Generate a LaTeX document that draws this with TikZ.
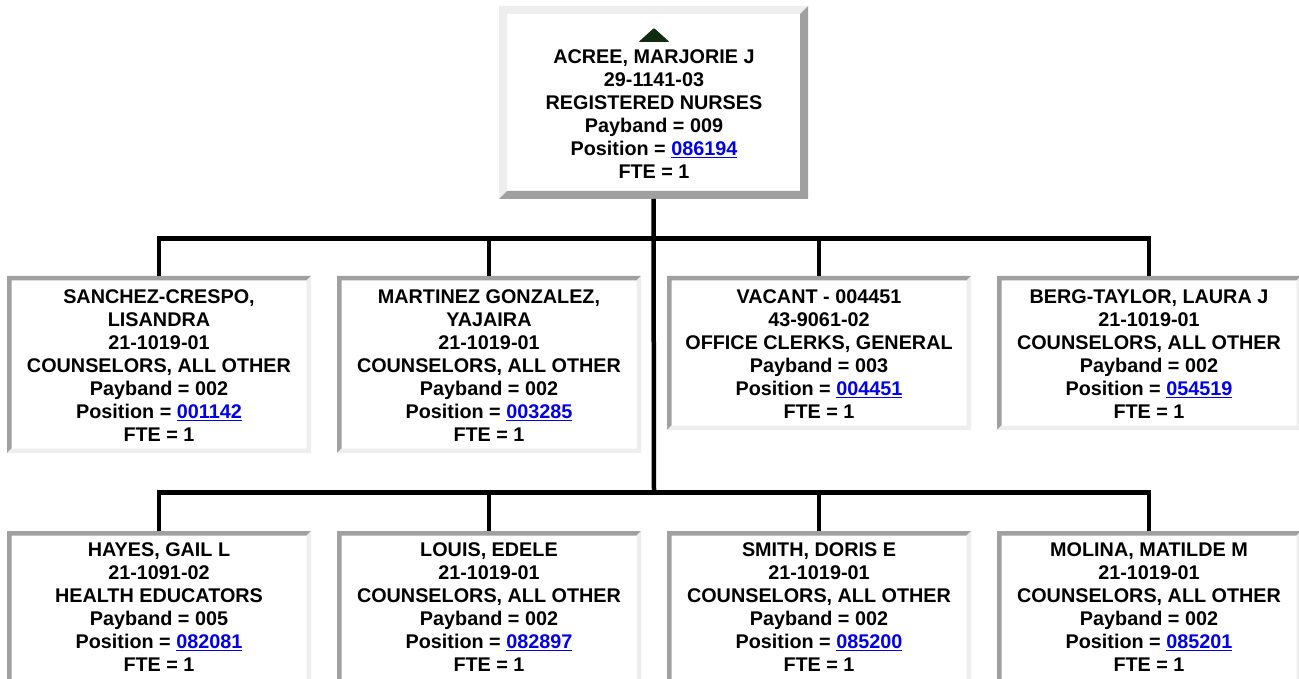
\documentclass[tikz,border=0pt]{standalone}
\usepackage{fontspec}
\setmainfont{Liberation Sans}
\definecolor{bdark}{HTML}{A0A0A0}
\definecolor{blight}{HTML}{EEEEEE}
\definecolor{linkblue}{HTML}{0000EE}
\definecolor{tri}{RGB}{16,44,16}
\newcommand\lnk[1]{\textcolor{linkblue}{\underline{#1}}}
% bevelled border: node, width, top-left colour, bottom-right colour
\newcommand\bevelbox[4]{%
  \fill[#3] (#1.south west) -- (#1.north west) -- (#1.north east)
    -- ([xshift=-#2,yshift=-#2]#1.north east) -- ([xshift=#2,yshift=-#2]#1.north west)
    -- ([xshift=#2,yshift=#2]#1.south west) -- cycle;
  \fill[#4] (#1.south west) -- (#1.south east) -- (#1.north east)
    -- ([xshift=-#2,yshift=-#2]#1.north east) -- ([xshift=-#2,yshift=#2]#1.south east)
    -- ([xshift=#2,yshift=#2]#1.south west) -- cycle;}
\tikzset{
  x=1pt, y=-1pt,
  cbox/.style={minimum width=304pt, minimum height=#1, inner sep=0pt, outer sep=0pt, fill=white},
  topbox/.style={minimum width=309pt, minimum height=193pt, inner sep=0pt, outer sep=0pt, fill=white},
  txt/.style={align=center, inner sep=0pt, font=\fontsize{19.8}{23}\selectfont\bfseries},
  conn/.style={line width=4.5pt, line join=miter, line cap=butt}
}
\begin{document}
\begin{tikzpicture}
\clip (0,0) rectangle (1299,679);
\fill[white] (0,0) rectangle (1299,679);
% boxes
\node[topbox] (top) at (653.5,102.5) {};
\node[cbox=177pt] (b1) at (159,364.5) {};
\node[cbox=177pt] (b2) at (489,364.5) {};
\node[cbox=154pt] (b3) at (819,353) {};
\node[cbox=154pt] (b4) at (1149,353) {};
\node[cbox=154pt] (c1) at (159,608) {};
\node[cbox=154pt] (c2) at (489,608) {};
\node[cbox=154pt] (c3) at (819,608) {};
\node[cbox=154pt] (c4) at (1149,608) {};
\bevelbox{top}{8pt}{blight}{bdark}
\foreach \n in {b1,b2,b3,b4,c1,c2,c3,c4}{\bevelbox{\n}{4.5pt}{bdark}{blight}}
% triangle
\fill[tri, rounded corners=1pt] (638.5,42) -- (669.5,42) -- (654,28) -- cycle;
% texts
\node[txt] (t0) at (654,114.5) {ACREE, MARJORIE J\\29-1141-03\\REGISTERED NURSES\\Payband = 009\\Position = \lnk{086194}\\FTE = 1};
\node[txt] (tb1) at (159,366) {SANCHEZ-CRESPO,\\LISANDRA\\21-1019-01\\COUNSELORS, ALL OTHER\\Payband = 002\\Position = \lnk{001142}\\FTE = 1};
\node[txt] (tb2) at (489,366) {MARTINEZ GONZALEZ,\\YAJAIRA\\21-1019-01\\COUNSELORS, ALL OTHER\\Payband = 002\\Position = \lnk{003285}\\FTE = 1};
\node[txt] (tb3) at (819,354.5) {VACANT - 004451\\43-9061-02\\OFFICE CLERKS, GENERAL\\Payband = 003\\Position = \lnk{004451}\\FTE = 1};
\node[txt] (tb4) at (1149,354.5) {BERG-TAYLOR, LAURA J\\21-1019-01\\COUNSELORS, ALL OTHER\\Payband = 002\\Position = \lnk{054519}\\FTE = 1};
\node[txt] (tc1) at (159,607.5) {HAYES, GAIL L\\21-1091-02\\HEALTH EDUCATORS\\Payband = 005\\Position = \lnk{082081}\\FTE = 1};
\node[txt] (tc2) at (489,607.5) {LOUIS, EDELE\\21-1019-01\\COUNSELORS, ALL OTHER\\Payband = 002\\Position = \lnk{082897}\\FTE = 1};
\node[txt] (tc3) at (819,607.5) {SMITH, DORIS E\\21-1019-01\\COUNSELORS, ALL OTHER\\Payband = 002\\Position = \lnk{085200}\\FTE = 1};
\node[txt] (tc4) at (1149,607.5) {MOLINA, MATILDE M\\21-1019-01\\COUNSELORS, ALL OTHER\\Payband = 002\\Position = \lnk{085201}\\FTE = 1};
% connectors
\coordinate (j1) at (654,238.5);
\coordinate (j2) at (654,492.5);
\draw[conn] (top.south) -- (j2);
\draw[conn] (b1.north) -- (b1.north |- j1) -- (b4.north |- j1) -- (b4.north);
\draw[conn] (b2.north |- j1) -- (b2.north);
\draw[conn] (b3.north |- j1) -- (b3.north);
\draw[conn] (c1.north) -- (c1.north |- j2) -- (c4.north |- j2) -- (c4.north);
\draw[conn] (c2.north |- j2) -- (c2.north);
\draw[conn] (c3.north |- j2) -- (c3.north);
\end{tikzpicture}
\end{document}
